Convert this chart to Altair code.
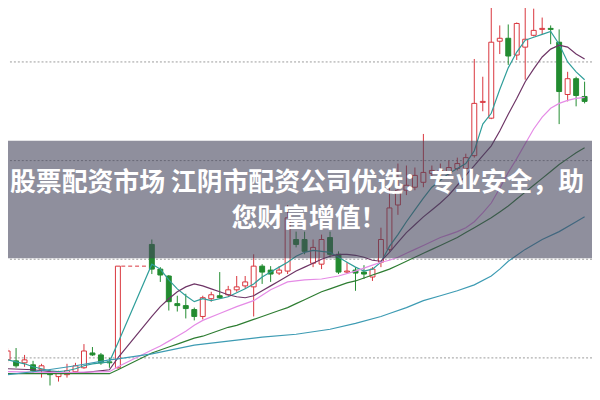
import altair as alt
import pandas as pd

# ---------------- data ----------------
days = list(range(0, 14)) + list(range(17, 69))
opens = [3.8, 3.7, 3.5, 3.3, 2.8, 2.5, 2.1, 2.3, 2.6, 3.0, 4.5, 4.3, 3.6, 3.0,
         15.5, 13.0, 12.3, 9.5, 9.3, 8.9, 8.2, 10.0, 10.3, 10.4, 10.9, 11.3, 11.2,
         13.3, 12.9, 12.6, 12.8, 16.0, 16.0, 13.6, 13.5, 16.2, 14.5, 12.7, 12.9,
         12.7, 12.2, 13.7, 15.0, 19.5, 21.0, 21.3, 21.8, 22.7, 22.7, 22.8, 23.2,
         23.2, 24.5, 29.9, 28.3, 36.1, 36.4, 34.7, 35.5, 36.7, 37.3, 37.4, 36.0,
         30.7, 32.3, 30.5]
highs = [5.0, 5.0, 4.3, 3.7, 3.4, 2.8, 2.7, 3.4, 3.5, 5.4, 5.1, 4.5, 4.0, 13.3,
         16.0, 13.2, 12.4, 10.3, 10.5, 9.1, 10.3, 10.7, 12.7, 11.3, 12.3, 12.3, 14.5,
         13.5, 13.3, 13.3, 19.5, 16.8, 16.8, 16.0, 16.5, 16.8, 14.8, 13.7, 13.2,
         13.4, 13.2, 17.2, 21.5, 23.7, 23.5, 23.3, 26.7, 23.5, 23.7, 24.0, 24.3,
         24.7, 34.3, 32.5, 40.0, 37.7, 37.8, 38.0, 40.0, 39.4, 38.5, 37.7, 37.3,
         33.0, 32.5, 32.0]
lows = [3.5, 3.0, 3.1, 2.5, 2.0, 1.2, 1.6, 2.0, 2.4, 2.9, 4.2, 3.3, 3.0, 2.9,
        12.5, 11.7, 8.8, 8.7, 8.0, 7.8, 7.9, 9.7, 10.0, 10.2, 10.7, 11.0, 8.2,
        11.5, 11.7, 12.4, 12.5, 15.2, 14.5, 13.2, 13.0, 14.2, 12.5, 12.6, 10.8,
        12.0, 11.8, 13.2, 14.8, 18.5, 20.5, 21.0, 21.3, 22.2, 22.4, 22.5, 23.0,
        23.0, 24.3, 29.0, 28.2, 34.8, 33.7, 34.2, 32.2, 36.6, 36.8, 35.8, 27.7,
        30.0, 29.5, 29.8]
closes = [4.7, 3.2, 3.8, 2.7, 3.2, 2.3, 2.5, 2.7, 3.2, 4.7, 4.3, 3.5, 3.5, 13.3,
          13.0, 12.4, 9.7, 9.3, 9.0, 8.2, 10.1, 10.4, 10.1, 10.9, 11.2, 11.7, 13.3,
          12.7, 12.5, 12.9, 18.2, 15.5, 14.8, 15.2, 16.0, 14.5, 12.7, 12.8, 12.6,
          12.5, 13.0, 16.0, 19.2, 21.0, 21.5, 22.5, 22.8, 23.0, 23.0, 23.3, 23.7,
          24.3, 29.8, 30.0, 36.0, 36.4, 34.6, 37.9, 36.3, 37.2, 37.4, 37.3, 31.0,
          32.3, 30.6, 30.0]

# suspension gap (dashed line at the last close before the gap)
gap_start, gap_end, gap_level = 13, 17, 13.3

ma5 = {0: 3.8, 1: 3.6, 2: 3.4, 3: 3.1, 4: 2.9, 5: 2.7, 6: 2.6, 7: 2.7, 8: 2.9, 9: 3.2,
       10: 3.4, 11: 3.5, 12: 3.6, 13: 5.5, 17: 13.5, 18: 13.0, 19: 11.9, 20: 11.0,
       21: 10.3, 22: 9.7, 23: 10.0, 24: 9.8, 25: 10.0, 26: 10.2, 27: 10.6, 28: 11.0,
       29: 11.5, 30: 12.2, 31: 12.7, 32: 13.2, 33: 13.7, 34: 14.3, 35: 14.7, 36: 14.9,
       37: 14.8, 38: 14.7, 39: 14.2, 40: 13.7, 41: 13.2, 42: 12.8, 43: 13.0, 44: 13.7,
       45: 15.3, 46: 16.5, 47: 17.8, 48: 19.0, 49: 20.2, 50: 21.3, 51: 22.0, 52: 22.7,
       53: 23.2, 54: 23.7, 55: 25.0, 56: 27.7, 57: 28.8, 58: 31.2, 59: 33.4, 60: 35.0,
       61: 36.2, 62: 36.5, 63: 36.8, 64: 37.1, 65: 35.8, 66: 34.0, 67: 33.0, 68: 32.2}
ma10 = {0: 2.9, 3: 2.8, 6: 2.5, 9: 2.5, 12: 2.8, 13: 4.0, 17: 8.2, 18: 9.2, 19: 10.0,
        20: 10.7, 21: 11.2, 22: 11.5, 23: 11.3, 24: 11.0, 25: 10.7, 26: 10.4, 27: 10.2,
        28: 10.1, 29: 10.3, 30: 10.8, 31: 11.3, 32: 11.8, 33: 12.3, 34: 12.8, 35: 13.2,
        36: 13.6, 37: 14.0, 38: 14.3, 39: 14.5, 40: 14.5, 41: 14.4, 42: 14.2, 43: 13.9,
        44: 13.8, 45: 14.7, 46: 15.7, 47: 16.7, 48: 17.5, 49: 18.3, 50: 19.0, 51: 19.7,
        52: 20.5, 53: 21.5, 54: 22.5, 55: 23.5, 56: 24.5, 57: 25.5, 58: 27.0, 59: 28.7,
        60: 30.3, 61: 32.0, 62: 33.3, 63: 34.5, 64: 35.3, 65: 35.7, 66: 35.5, 67: 34.8,
        68: 34.3}
ma20 = {0: 2.6, 6: 2.5, 12: 2.6, 13: 3.1, 17: 4.8, 18: 5.2, 19: 5.7, 20: 6.2, 21: 6.7,
        22: 7.3, 23: 7.8, 25: 8.5, 27: 9.2, 29: 9.8, 31: 10.9, 33: 11.7, 35: 11.9,
        37: 12.0, 39: 12.3, 41: 12.8, 43: 13.4, 44: 13.7, 45: 13.9, 46: 14.2, 47: 14.6,
        48: 15.0, 49: 15.4, 50: 15.8, 51: 16.2, 52: 16.5, 53: 16.8, 54: 17.2, 55: 17.8,
        56: 18.7, 57: 19.7, 58: 21.2, 59: 22.8, 60: 24.2, 61: 25.7, 62: 27.2, 63: 28.4,
        64: 29.3, 65: 29.8, 66: 30.1, 67: 30.3, 68: 30.4}
ma30 = {0: 2.4, 12: 2.4, 13: 2.8, 17: 4.5, 18: 4.8, 19: 5.1, 20: 5.4, 21: 5.7, 22: 6.0,
        23: 6.2, 24: 6.5, 25: 6.8, 26: 7.1, 27: 7.3, 28: 7.6, 29: 7.9, 30: 8.2, 31: 8.5,
        32: 8.8, 33: 9.1, 34: 9.5, 35: 9.9, 36: 10.3, 37: 10.7, 38: 11.0, 39: 11.3,
        40: 11.6, 41: 11.8, 42: 12.1, 43: 12.4, 44: 12.7, 45: 13.0, 46: 13.4, 47: 13.8,
        48: 14.2, 49: 14.6, 50: 15.0, 51: 15.4, 52: 15.8, 53: 16.2, 54: 16.7, 55: 17.2,
        56: 17.7, 57: 18.2, 58: 18.8, 59: 19.4, 60: 20.1, 61: 20.8, 62: 21.5, 63: 22.2,
        64: 22.9, 65: 23.6, 66: 24.2, 67: 24.8, 68: 25.3}
ma60 = {0: 2.3, 4: 2.7, 8: 3.2, 12: 3.8, 13: 3.9, 17: 4.4, 22: 5.3, 26: 5.7, 30: 6.1,
        34: 6.4, 38: 6.9, 41: 7.5, 44: 8.2, 45: 8.5, 47: 9.1, 49: 9.8, 51: 10.3,
        53: 10.8, 55: 11.4, 57: 12.3, 58: 13.0, 59: 13.8, 61: 15.0, 63: 16.0, 65: 16.8,
        67: 17.8, 68: 18.3}

grid_levels = [4, 14, 24, 34]

title_line1 = "股票配资市场 江阴市配资公司优选：专业安全，助"
title_line2 = "您财富增值！"

# ---------------- styling ----------------
RED = "#d8343c"
GREEN = "#228b30"
ma_names = ["MA5", "MA10", "MA20", "MA30", "MA60"]
ma_colors = ["#2f9e9a", "#6e3566", "#e58be6", "#2e7d32", "#3d9bb3"]

x_scale = alt.Scale(domain=[0.63, 68.29], nice=False, zero=False)
y_scale = alt.Scale(domain=[0, 39.2], nice=False, zero=False)

candles = pd.DataFrame({"day": days, "open": opens, "high": highs,
                        "low": lows, "close": closes})
candles["dir"] = ["up" if c >= o else "down" for o, c in zip(opens, closes)]

ma_rows = []
for name, series in zip(ma_names, [ma5, ma10, ma20, ma30, ma60]):
    for d, v in series.items():
        ma_rows.append({"ma": name, "day": d, "value": v})
ma_df = pd.DataFrame(ma_rows)

grid = alt.Chart(pd.DataFrame({"level": grid_levels})).mark_rule(
    color="#9a9a9a", strokeDash=[2, 2], strokeWidth=1
).encode(y=alt.Y("level:Q", scale=y_scale, axis=None))

dir_stroke = alt.Stroke("dir:N", scale=alt.Scale(domain=["up", "down"], range=[RED, GREEN]),
                        legend=None)
dir_fill = alt.Fill("dir:N", scale=alt.Scale(domain=["up", "down"], range=["#ffffff", GREEN]),
                    legend=None)

wicks = alt.Chart(candles).mark_rule(strokeWidth=1).encode(
    x=alt.X("day:Q", scale=x_scale, axis=None),
    y=alt.Y("low:Q", scale=y_scale, axis=None),
    y2="high:Q",
    stroke=dir_stroke,
)

bodies = alt.Chart(candles).mark_bar(size=5, strokeWidth=1).encode(
    x=alt.X("day:Q", scale=x_scale, axis=None),
    y=alt.Y("open:Q", scale=y_scale, axis=None),
    y2="close:Q",
    stroke=dir_stroke,
    fill=dir_fill,
)

gap = alt.Chart(pd.DataFrame({"s": [gap_start + 0.4], "e": [gap_end - 0.35],
                              "lvl": [gap_level]})).mark_rule(
    color=RED, strokeDash=[4, 3], strokeWidth=1
).encode(
    x=alt.X("s:Q", scale=x_scale, axis=None), x2="e:Q",
    y=alt.Y("lvl:Q", scale=y_scale, axis=None),
)

lines = alt.Chart(ma_df).mark_line(strokeWidth=1.2).encode(
    x=alt.X("day:Q", scale=x_scale, axis=None),
    y=alt.Y("value:Q", scale=y_scale, axis=None),
    color=alt.Color("ma:N", scale=alt.Scale(domain=ma_names, range=ma_colors), legend=None),
    detail="ma:N",
)

banner = alt.Chart(pd.DataFrame({"k": [0]})).mark_rect(
    color="#45455c", opacity=0.6
).encode(x=alt.value(0), x2=alt.value(592), y=alt.value(132), y2=alt.value(251))

text1 = alt.Chart(pd.DataFrame({"t": [title_line1]})).mark_text(
    font="Noto Sans CJK SC", fontSize=26.2, fontWeight="bold", color="white",
    align="center", baseline="middle"
).encode(text="t:N", x=alt.value(293), y=alt.value(175))

text2 = alt.Chart(pd.DataFrame({"t": [title_line2]})).mark_text(
    font="Noto Sans CJK SC", fontSize=26.2, fontWeight="bold", color="white",
    align="center", baseline="middle"
).encode(text="t:N", x=alt.value(305), y=alt.value(211))

chart = alt.layer(grid, wicks, bodies, gap, lines, banner, text1, text2).properties(
    width=592, height=392, padding=0, autosize="none"
).configure_view(stroke=None)

chart.save("out.html", embed_options={"renderer": "svg", "actions": False})
